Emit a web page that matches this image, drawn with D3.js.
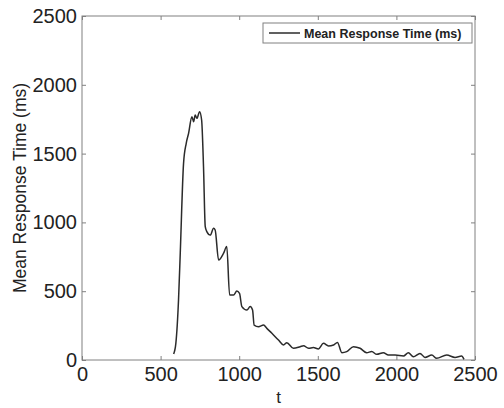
<!DOCTYPE html>
<html>
<head>
<meta charset="utf-8">
<script src="https://cdn.jsdelivr.net/npm/d3@7"></script>
<style>
  body { margin: 0; background: #fff; }
  text { font-family: "Liberation Sans", Arial, sans-serif; fill: #222; }
</style>
</head>
<body>
<div id="chart"></div>
<script>
// dimensions of the picture and the plot box
const width = 504;
const height = 408;
const margin = { top: 16, right: 29, bottom: 48, left: 82 };

// data
const tValues = [583, 597, 614, 625, 646, 663, 678, 699, 710, 720, 731, 748, 761, 773, 784, 794,
  816, 837, 847, 869, 900, 921, 939, 964, 985, 1002, 1017, 1049, 1070, 1085, 1095, 1123,
  1155, 1176, 1208, 1250, 1282, 1303, 1345, 1388, 1409, 1441, 1472, 1504, 1536, 1568, 1600,
  1625, 1653, 1684, 1727, 1769, 1811, 1843, 1875, 1917, 1949, 1992, 2045, 2076, 2108, 2150,
  2182, 2225, 2256, 2320, 2373, 2415, 2430];
const responseTime = [44, 121, 436, 775, 1429, 1575, 1647, 1768, 1732, 1780, 1756, 1805, 1744, 1405, 969, 933,
  908, 957, 945, 727, 775, 824, 472, 472, 501, 484, 388, 363, 388, 363, 254, 242,
  254, 230, 194, 145, 109, 126, 85, 97, 104, 85, 90, 80, 121, 102, 109,
  128, 53, 61, 97, 85, 53, 61, 41, 53, 36, 36, 29, 53, 24, 48,
  19, 36, 12, 36, 19, 29, 5];
const xTicks = [0, 500, 1000, 1500, 2000, 2500];
const yTicks = [0, 500, 1000, 1500, 2000, 2500];
const seriesName = "Mean Response Time (ms)";

const data = tValues.map((t, i) => ({ t: t, v: responseTime[i] }));

const svg = d3.select("#chart")
  .append("svg")
  .attr("width", width)
  .attr("height", height);

const x = d3.scaleLinear()
  .domain([0, 2500])
  .range([margin.left, width - margin.right]);

const y = d3.scaleLinear()
  .domain([0, 2500])
  .range([height - margin.bottom, margin.top]);

const frameColor = "#808080";
const fmt = d3.format("d");

// plot box
svg.append("rect")
  .attr("x", x(0))
  .attr("y", y(2500))
  .attr("width", x(2500) - x(0))
  .attr("height", y(0) - y(2500))
  .attr("fill", "none")
  .attr("stroke", frameColor)
  .attr("stroke-width", 1);

// axes with inward ticks (bottom/left carry labels)
const xAxis = svg.append("g")
  .attr("transform", `translate(0,${y(0)})`)
  .call(d3.axisBottom(x).tickValues(xTicks).tickFormat(fmt).tickSizeInner(-4).tickSizeOuter(0).tickPadding(7));
const xTop = svg.append("g")
  .attr("transform", `translate(0,${y(2500)})`)
  .call(d3.axisTop(x).tickValues(xTicks).tickSizeInner(-4).tickSizeOuter(0).tickFormat(""));
const yAxis = svg.append("g")
  .attr("transform", `translate(${x(0)},0)`)
  .call(d3.axisLeft(y).tickValues(yTicks).tickFormat(fmt).tickSizeInner(-4).tickSizeOuter(0).tickPadding(5));
const yRight = svg.append("g")
  .attr("transform", `translate(${x(2500)},0)`)
  .call(d3.axisRight(y).tickValues(yTicks).tickSizeInner(-4).tickSizeOuter(0).tickFormat(""));

[xAxis, xTop, yAxis, yRight].forEach(g => {
  g.select(".domain").remove();
  g.selectAll("line").attr("stroke", frameColor);
  g.selectAll("text")
    .style("font-family", "'Liberation Sans', Arial, sans-serif")
    .style("font-size", "20px")
    .attr("fill", "#222");
});

// axis titles
svg.append("text")
  .attr("x", x(1250))
  .attr("y", 403)
  .attr("text-anchor", "middle")
  .style("font-size", "17px")
  .text("t");

svg.append("text")
  .attr("transform", `translate(26,${y(1250)}) rotate(-90)`)
  .attr("text-anchor", "middle")
  .style("font-size", "17.5px")
  .text("Mean Response Time (ms)");

// the series
const line = d3.line()
  .x(d => x(d.t))
  .y(d => y(d.v))
  .curve(d3.curveMonotoneX);

svg.append("path")
  .datum(data)
  .attr("fill", "none")
  .attr("stroke", "#2b2b2b")
  .attr("stroke-width", 1.5)
  .attr("d", line);

// legend
const legend = svg.append("g");
legend.append("rect")
  .attr("x", 263)
  .attr("y", 23)
  .attr("width", 209)
  .attr("height", 20)
  .attr("fill", "#fff")
  .attr("stroke", frameColor);
legend.append("line")
  .attr("x1", 269).attr("x2", 300)
  .attr("y1", 33).attr("y2", 33)
  .attr("stroke", "#2b2b2b")
  .attr("stroke-width", 1.5);
legend.append("text")
  .attr("x", 304)
  .attr("y", 37.5)
  .style("font-size", "12.5px")
  .style("font-weight", "bold")
  .text(seriesName);
</script>
</body>
</html>
